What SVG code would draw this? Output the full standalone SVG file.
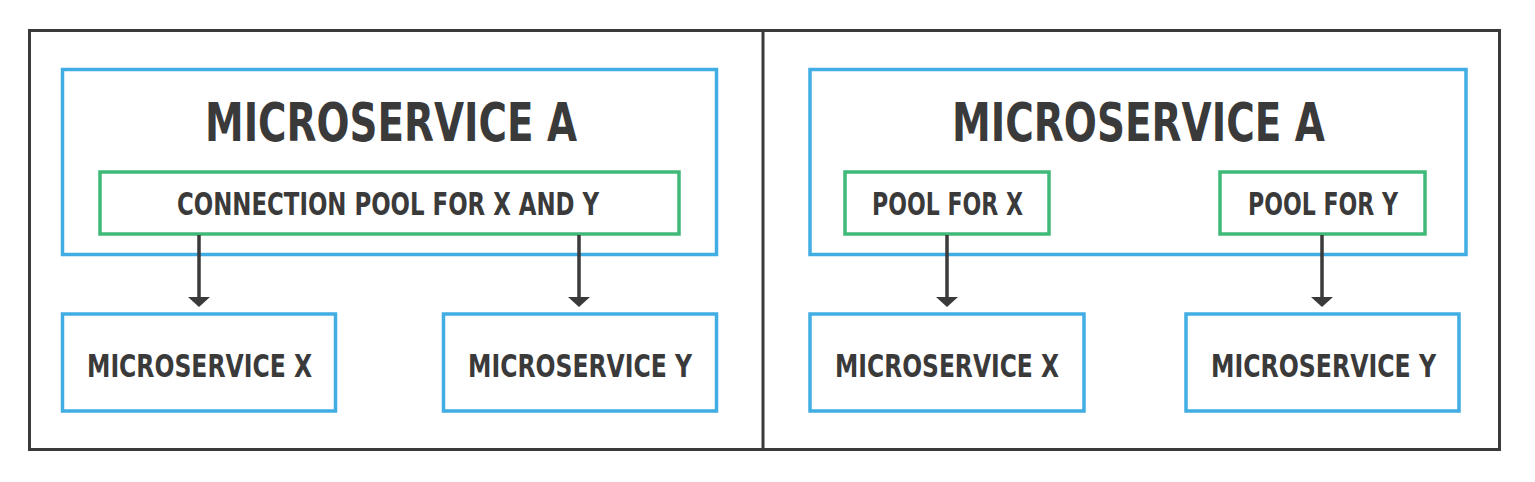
<svg xmlns="http://www.w3.org/2000/svg" width="1535" height="482" viewBox="0 0 1535 482">
<style>
.frame{fill:none;stroke:#3a3a3a;stroke-width:3}
.blue{fill:none;stroke:#41ade2;stroke-width:3.5}
.green{fill:none;stroke:#40b978;stroke-width:3.5}
.conn{stroke:#3a3a3a;stroke-width:3.5;fill:none}
.head{fill:#3a3a3a}
text{font-family:"DejaVu Sans Condensed","DejaVu Sans",sans-serif;font-weight:bold;fill:#3a3a3a;text-anchor:start}
.big{font-size:53px}
.small{font-size:32px}
</style>
<rect width="1535" height="482" fill="#ffffff"/>
<g id="frame">
<rect class="frame" x="29.5" y="30.5" width="1470" height="419"/>
<line class="frame" x1="763" y1="30.5" x2="763" y2="449.5"/>
</g>
<g id="left-microservice-a">
<rect class="blue" x="62.5" y="69.5" width="654" height="185"/>
<text class="big" x="205" y="141" textLength="372" lengthAdjust="spacingAndGlyphs">MICROSERVICE A</text>
</g>
<g id="left-connection-pool">
<rect class="green" x="100" y="172" width="579" height="62"/>
<text class="small" x="177" y="215" textLength="422" lengthAdjust="spacingAndGlyphs">CONNECTION POOL FOR X AND Y</text>
</g>
<g id="left-microservice-x">
<rect class="blue" x="62.5" y="314" width="273" height="97"/>
<text class="small" x="87" y="377" textLength="225" lengthAdjust="spacingAndGlyphs">MICROSERVICE X</text>
</g>
<g id="left-microservice-y">
<rect class="blue" x="443.5" y="314" width="273" height="97"/>
<text class="small" x="468" y="377" textLength="224" lengthAdjust="spacingAndGlyphs">MICROSERVICE Y</text>
</g>
<g id="right-microservice-a">
<rect class="blue" x="810" y="69.5" width="656" height="185"/>
<text class="big" x="952" y="141" textLength="373" lengthAdjust="spacingAndGlyphs">MICROSERVICE A</text>
</g>
<g id="right-pool-x">
<rect class="green" x="845" y="172" width="204" height="62"/>
<text class="small" x="872" y="215" textLength="151" lengthAdjust="spacingAndGlyphs">POOL FOR X</text>
</g>
<g id="right-pool-y">
<rect class="green" x="1220" y="172" width="205" height="62"/>
<text class="small" x="1248" y="215" textLength="150" lengthAdjust="spacingAndGlyphs">POOL FOR Y</text>
</g>
<g id="right-microservice-x">
<rect class="blue" x="810" y="314" width="274" height="97"/>
<text class="small" x="835" y="377" textLength="224" lengthAdjust="spacingAndGlyphs">MICROSERVICE X</text>
</g>
<g id="right-microservice-y">
<rect class="blue" x="1186" y="314" width="273" height="97"/>
<text class="small" x="1211" y="377" textLength="225" lengthAdjust="spacingAndGlyphs">MICROSERVICE Y</text>
</g>
<g id="connectors">
<line class="conn" x1="199" y1="235" x2="199" y2="298"/>
<polygon class="head" points="188,297 210,297 199,307"/>
<line class="conn" x1="579" y1="235" x2="579" y2="298"/>
<polygon class="head" points="568,297 590,297 579,307"/>
<line class="conn" x1="947" y1="235" x2="947" y2="298"/>
<polygon class="head" points="936,297 958,297 947,307"/>
<line class="conn" x1="1322" y1="235" x2="1322" y2="298"/>
<polygon class="head" points="1311,297 1333,297 1322,307"/>
</g>
</svg>
